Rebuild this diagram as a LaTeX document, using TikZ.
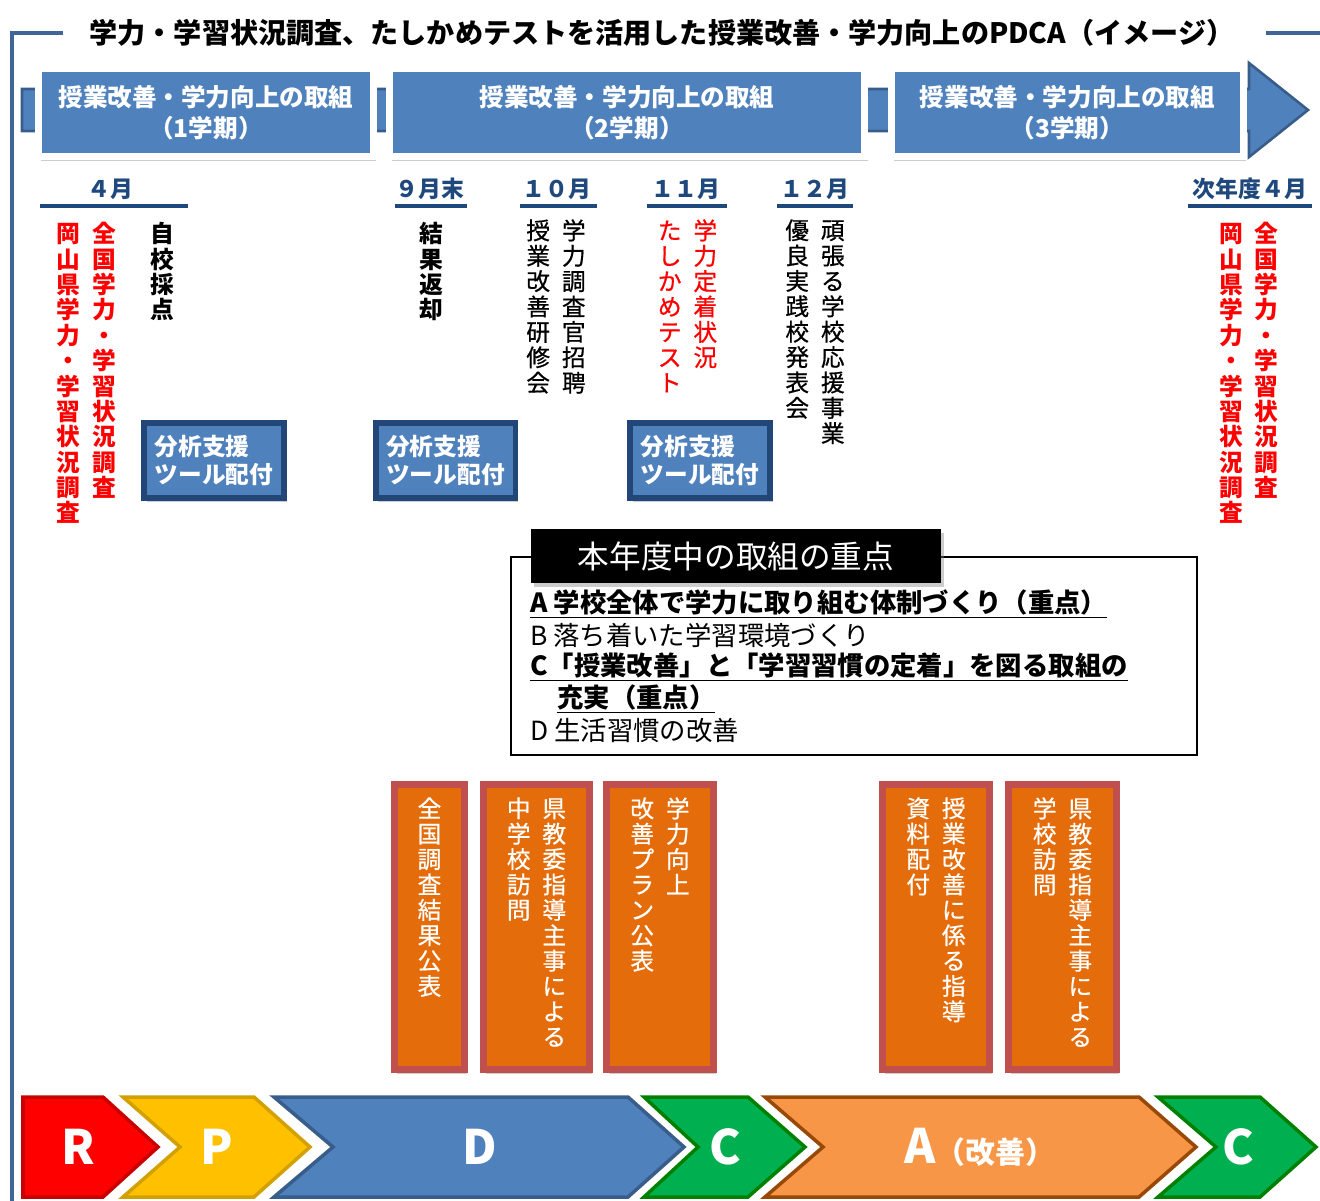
\documentclass[tikz,border=0pt]{standalone}
\usepackage{fontspec}
\setmainfont{Noto Sans CJK JP}
\usetikzlibrary{positioning, shadows}

\definecolor{framecol}{RGB}{65,101,150}
\definecolor{bandfill}{RGB}{79,129,189}
\definecolor{banddraw}{RGB}{56,93,138}
\definecolor{monthcol}{RGB}{31,73,125}
\definecolor{toolline}{RGB}{35,70,120}
\definecolor{orangefill}{RGB}{228,108,10}
\definecolor{orangeline}{RGB}{192,80,77}
\definecolor{rfill}{RGB}{255,0,0}
\definecolor{rline}{RGB}{200,0,0}
\definecolor{pfill}{RGB}{255,192,0}
\definecolor{pline}{RGB}{210,160,0}
\definecolor{cfill}{RGB}{0,176,80}
\definecolor{cline}{RGB}{0,128,0}
\definecolor{afill}{RGB}{247,150,70}
\definecolor{aline}{RGB}{152,72,7}

% vertical (tategaki) text
\makeatletter
\newcommand\tate[1]{\vtop{\baselineskip=1.07em\@tfor\tate@c:=#1\do{\hbox to 1em{\hss\tate@c\hss}}}}
\makeatother
\newcommand\tatetwo[2]{\tate{#2}\hskip0.5em\tate{#1}}

\tikzset{
  boxshadow/.style={drop shadow={opacity=0.4, shadow xshift=1.5pt, shadow yshift=-2.5pt}},
  frameline/.style={draw=framecol, line width=2.4pt},
  term/.style={draw=white, line width=4pt, fill=bandfill, text=white, font=\fontsize{14}{18}\selectfont\bfseries, align=center, minimum height=1.75cm, boxshadow},
  month/.style={text=monthcol, font=\fontsize{13}{15}\selectfont\bfseries},
  monthline/.style={draw=monthcol, line width=2.8pt},
  vtext/.style={anchor=north, inner sep=0pt, font=\fontsize{13.5}{14}\selectfont\addfontfeatures{FakeBold=0.6}},
  vbold/.style={vtext, font=\fontsize{13.5}{14}\selectfont\bfseries},
  toolbox/.style={draw=toolline, line width=3.4pt, fill=bandfill, text=white, font=\fontsize{13.5}{15.5}\selectfont\bfseries, align=left, minimum width=2.8cm, minimum height=1.5cm, boxshadow},
  focustext/.style={anchor=west, inner sep=0pt, font=\fontsize{15}{18}\selectfont},
  focusbold/.style={focustext, font=\fontsize{15}{18}\selectfont\bfseries},
  obox/.style={draw=orangeline, line width=4pt, fill=orangefill, minimum height=5.7cm, boxshadow},
  otext/.style={inner sep=0pt, text=white, font=\fontsize{13.5}{14}\selectfont\addfontfeatures{FakeBold=0.6}},
  pdca/.style={text=white, font=\fontsize{27}{30}\selectfont\bfseries},
}

\begin{document}
\begin{tikzpicture}[x=0.02cm, y=-0.02cm]
  \useasboundingbox (0,0) rectangle (1320,1201);

  % title and frame
  \node[font=\fontsize{16}{18}\selectfont\bfseries] (title) at (662,33) {学力・学習状況調査、たしかめテストを活用した授業改善・学力向上のPDCA（イメージ）};
  \coordinate (fcorner) at (12,33);
  \coordinate (fbottom) at (12,1201);
  \coordinate (fright) at (1320,33);
  \draw[frameline] ([xshift=-0.4cm]title.west) -- (fcorner) -- (fbottom);
  \draw[frameline] ([xshift=0.5cm]title.east) -- (fright);

  % term arrow
  \filldraw[fill=bandfill, draw=banddraw, line width=1.5pt] (22,89) -- (1249,89) -- (1249,63) -- (1308,110) -- (1249,157) -- (1249,131) -- (22,131) -- cycle;
  \node[term, minimum width=6.7cm] (term1) at (206,112.5) {授業改善・学力向上の取組\\（1学期）};
  \node[term, minimum width=9.52cm] (term2) at (627,112.5) {授業改善・学力向上の取組\\（2学期）};
  \node[term, minimum width=7.04cm] (term3) at (1067.5,112.5) {授業改善・学力向上の取組\\（3学期）};

  % months
  \foreach \mx/\ml/\la/\lb/\nm in {110/４月/40/188/m4, 430/９月末/395/467/m9, 557/１０月/520/597/m10, 686/１１月/647/727/m11, 815/１２月/777/853/m12, 1250/次年度４月/1188/1312/mnext}{
    \node[month] (\nm) at (\mx,189) {\ml};
    \draw[monthline] (\la,206) -- (\lb,206);
  }

  % events
  \node[vbold, text=red] (apr) at (86.5,222) {\tatetwo{全国学力・学習状況調査}{岡山県学力・学習状況調査}};
  \node[vbold] (saiten) at (162,222) {\tate{自校採点}};
  \node[vbold] (henkyaku) at (431,222) {\tate{結果返却}};
  \node[vtext] (oct) at (556,219) {\tatetwo{学力調査官招聘}{授業改善研修会}};
  \node[vtext, text=red] (nov) at (687.5,219) {\tatetwo{学力定着状況}{たしかめテスト}};
  \node[vtext] (dec) at (815,219) {\tatetwo{頑張る学校応援事業}{優良実践校発表会}};
  \node[vbold, text=red] (nextapr) at (1249,222) {\tatetwo{全国学力・学習状況調査}{岡山県学力・学習状況調査}};

  % tools
  \foreach \ax/\nm in {214/tool1, 445.5/tool2, 700/tool3}
    \node[toolbox] (\nm) at (\ax,460.5) {分析支援\\ツール配付};

  % focus
  \node[draw, line width=0.9pt, minimum width=13.72cm, minimum height=3.96cm] (focus) at (854,656) {};
  \node[fill=black, text=white, minimum width=8.2cm, minimum height=1.08cm, font=\fontsize{18}{20}\selectfont, boxshadow] (focushead) at (736,556) {本年度中の取組の重点};
  \node[focusbold] (fa) at (530,604) {\underline{A 学校全体で学力に取り組む体制づくり（重点）}};
  \node[focustext] (fb) at (530,635) {B 落ち着いた学習環境づくり};
  \node[focusbold] (fc) at (530,667) {\underline{C「授業改善」と「学習習慣の定着」を図る取組の}};
  \node[focusbold] (fc2) at (557,699) {\underline{充実（重点）}};
  \node[focustext] (fd) at (530,731) {D 生活習慣の改善};

  % orange boxes
  \node[obox, minimum width=1.4cm] (o1) at (429.5,927) {};
  \node[obox, minimum width=2.12cm] (o2) at (536.5,927) {};
  \node[obox, minimum width=2.14cm] (o3) at (660,927) {};
  \node[obox, minimum width=2.14cm] (o4) at (936,927) {};
  \node[obox, minimum width=2.16cm] (o5) at (1062.5,927) {};
  \node[otext, below=0.32cm of o1.north] (o1text) {\tate{全国調査結果公表}};
  \node[otext, below=0.32cm of o2.north] (o2text) {\tatetwo{県教委指導主事による}{中学校訪問}};
  \node[otext, below=0.32cm of o3.north] (o3text) {\tatetwo{学力向上}{改善プラン公表}};
  \node[otext, below=0.32cm of o4.north] (o4text) {\tatetwo{授業改善に係る指導}{資料配付}};
  \node[otext, below=0.32cm of o5.north] (o5text) {\tatetwo{県教委指導主事による}{学校訪問}};

  % PDCA chevrons
  \filldraw[fill=rfill, draw=rline, line width=2pt] (23,1097) -- (103,1097) -- (158,1147) -- (103,1197) -- (23,1197) -- cycle;
  \foreach \cl/\cn/\cs/\ct/\cf/\cd in {123/180/254/310/pfill/pline, 274/333/628/684/bandfill/banddraw, 644/698/748/805/cfill/cline, 765/823/1139/1196/afill/aline, 1158/1216/1260/1316/cfill/cline}
    \filldraw[fill=\cf, draw=\cd, line width=2pt] (\cl,1097) -- (\cs,1097) -- (\ct,1147) -- (\cs,1197) -- (\cl,1197) -- (\cn,1147) -- cycle;
  \node[pdca] (lr) at (78,1147) {R};
  \node[pdca] (lp) at (217,1147) {P};
  \node[pdca] (ld) at (480,1147) {D};
  \node[pdca] (lc) at (725,1147) {C};
  \node[pdca] (la) at (980,1147) {A\fontsize{17}{20}\selectfont（改善）};
  \node[pdca] (lc2) at (1238,1147) {C};
\end{tikzpicture}
\end{document}
